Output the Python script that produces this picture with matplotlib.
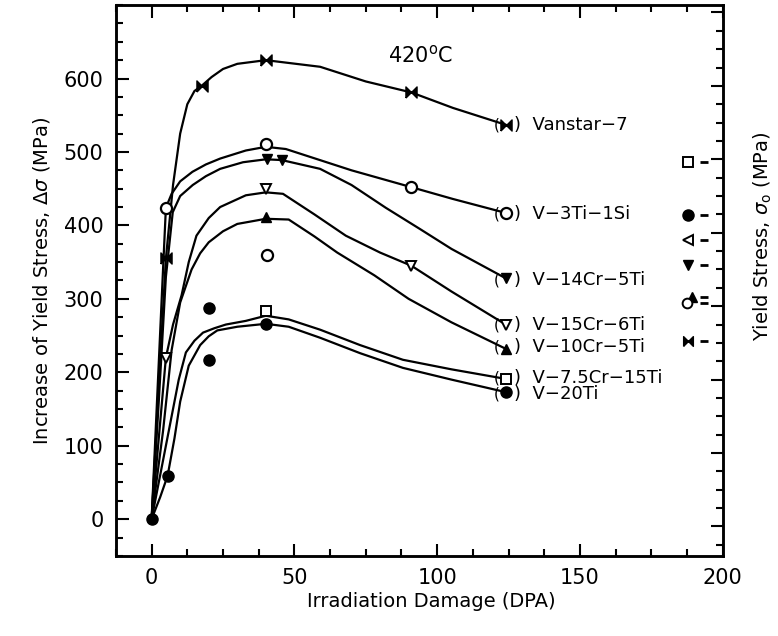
import matplotlib
matplotlib.use("Agg")
import matplotlib.pyplot as plt
from matplotlib.ticker import MultipleLocator, FixedLocator, NullFormatter

# measured points (DPA, MPa) per alloy
van_x = [5, 17.5, 40, 91, 124]
van_y = [355, 590, 625, 581, 537]
ti3_x = [5, 40, 91, 124]
ti3_y = [424, 511, 452, 417]
ti3_extra_x = [40.5]
ti3_extra_y = [360]
cr14_x = [40.5, 45.5, 124]
cr14_y = [491, 489, 328]
cr15_x = [5, 40, 91, 124]
cr15_y = [220, 449, 345, 265]
cr10_x = [40, 124]
cr10_y = [411, 232]
cr75_x = [40, 124]
cr75_y = [283, 191]
ti20_x = [0, 5.6, 20, 20, 40, 124]
ti20_y = [0, 59, 287, 217, 266, 173]

# hand drawn trend curves
van_cx = [0, 2.5, 5, 7.5, 10, 12.5, 15, 17.5, 21, 25, 30, 40, 59, 75, 91, 105.5, 124]
van_cy = [0, 180, 355, 455, 525, 565, 583, 590, 602, 613, 620, 625, 616, 596, 581, 560, 537]
ti3_cx = [0, 2, 4, 5, 7, 10, 14.3, 19, 24, 33, 40, 47, 70, 91, 105.5, 124]
ti3_cy = [0, 170, 340, 424, 443, 460, 473, 483, 491, 502, 507, 504, 475, 452, 436, 417]
cr14_cx = [0, 2.5, 5, 7.4, 10, 14.4, 19, 24, 32, 40, 45.5, 59, 70, 82, 94, 105, 124]
cr14_cy = [0, 160, 330, 418, 440, 455, 467, 477, 486, 490, 489, 477, 455, 424, 395, 368, 328]
cr15_cx = [0, 2.5, 5, 7.5, 10.5, 13, 15.7, 20, 24, 33, 40, 46, 57, 68, 80, 91, 105, 124]
cr15_cy = [0, 110, 220, 265, 305, 350, 386, 410, 425, 441, 445, 443, 415, 386, 363, 345, 310, 265]
cr10_cx = [0, 4, 7, 10, 14, 17, 20, 25, 30, 40, 48, 57, 65, 78, 90, 105, 124]
cr10_cy = [0, 120, 230, 295, 340, 362, 377, 392, 402, 409, 408, 385, 363, 332, 300, 268, 232]
cr75_cx = [0, 2, 4.5, 7, 9.5, 12, 15, 18, 22, 26, 33, 40, 48, 59, 73, 88, 105, 124]
cr75_cy = [0, 40, 90, 140, 190, 227, 243, 254, 260, 265, 270, 277, 272, 258, 237, 217, 204, 191]
ti20_cx = [0, 3, 5.6, 8, 10, 13, 17, 20, 23, 30, 40, 48, 59, 73, 88, 105, 124]
ti20_cy = [0, 30, 59, 110, 160, 209, 237, 249, 257, 262, 266, 262, 247, 226, 206, 190, 173]

alloys = ["Vanstar\u22127", "V\u22123Ti\u22121Si", "V\u221214Cr\u22125Ti", "V\u221215Cr\u22126Ti",
          "V\u221210Cr\u22125Ti", "V\u22127.5Cr\u221215Ti", "V\u221220Ti"]
label_y = [537, 415, 325, 265, 235, 192, 170]

# unirradiated yield stress markers on the right
ref_y = [486, 414, 380, 346, 302, 295, 243]

bowtie = [(-1, -1), (-1, 1), (1, -1), (1, 1), (-1, -1)]

fig = plt.figure(figsize=(7.78, 6.36), dpi=100)
ax = fig.add_axes([0.149, 0.126, 0.78, 0.866])

lw = 1.6
for cx, cy in [(van_cx, van_cy), (ti3_cx, ti3_cy), (cr14_cx, cr14_cy), (cr15_cx, cr15_cy),
               (cr10_cx, cr10_cy), (cr75_cx, cr75_cy), (ti20_cx, ti20_cy)]:
    ax.plot(cx, cy, color="black", lw=lw, zorder=2)

ms = 8
ax.plot(van_x, van_y, ls="none", marker=bowtie, ms=8, color="black", zorder=3)
ax.plot(ti3_x + ti3_extra_x, ti3_y + ti3_extra_y, ls="none", marker="o", ms=ms, mfc="white",
        mec="black", mew=1.6, zorder=3)
ax.plot(cr14_x, cr14_y, ls="none", marker="v", ms=7, color="black", zorder=3)
ax.plot(cr15_x, cr15_y, ls="none", marker="v", ms=7, mfc="white", mec="black", mew=1.4, zorder=3)
ax.plot(cr10_x, cr10_y, ls="none", marker="^", ms=7, color="black", zorder=3)
ax.plot(cr75_x, cr75_y, ls="none", marker="s", ms=6.5, mfc="white", mec="black", mew=1.4, zorder=3)
ax.plot(ti20_x, ti20_y, ls="none", marker="o", ms=ms, color="black", zorder=3)

# labels at curve ends
for name, y in zip(alloys, label_y):
    ax.text(120.8, y, "(", fontsize=11, ha="center", va="center")
    ax.text(126.8, y, ")  " + name, fontsize=13, ha="left", va="center")

# reference markers beside right axis
rx = 188
ax.plot([rx], [ref_y[0]], ls="none", marker="s", ms=7, mfc="white", mec="black", mew=1.4)
ax.plot([rx], [ref_y[1]], ls="none", marker="o", ms=8, color="black")
ax.plot([rx], [ref_y[2]], ls="none", marker="<", ms=7, mfc="white", mec="black", mew=1.4)
ax.plot([rx], [ref_y[3]], ls="none", marker="v", ms=7, color="black")
ax.plot([rx + 1.2], [ref_y[4]], ls="none", marker="^", ms=7, color="black")
ax.plot([rx - 0.5], [ref_y[5]], ls="none", marker="o", ms=7, mfc="white", mec="black", mew=1.4)
ax.plot([rx], [ref_y[6]], ls="none", marker=bowtie, ms=7, color="black")
ax.plot([193.5] * len(ref_y), ref_y, ls="none", marker="_", ms=6, mew=2, color="black")

ax.text(94, 632, r"420$^{\mathrm{o}}$C", fontsize=15, ha="center", va="center")

ax.set_xlim(-12.5, 200)
ax.set_ylim(-50, 700)
ax.xaxis.set_major_locator(FixedLocator([0, 50, 100, 150, 200]))
ax.xaxis.set_minor_locator(MultipleLocator(12.5))
ax.yaxis.set_major_locator(FixedLocator([0, 100, 200, 300, 400, 500, 600]))
ax.yaxis.set_minor_locator(MultipleLocator(25))
ax.tick_params(which="both", direction="in", top=True, right=False, width=1.5, labelsize=15)
ax.tick_params(which="major", length=9, pad=9)
ax.tick_params(which="minor", length=5)
for s in ax.spines.values():
    s.set_linewidth(1.8)

ax.set_xlabel("Irradiation Damage (DPA)", fontsize=14, labelpad=2)
ax.xaxis.set_label_coords(0.52, -0.065)
ax.set_ylabel(r"Increase of Yield Stress, $\Delta\sigma$ (MPa)", fontsize=14, labelpad=8)

ax2 = ax.twinx()
ax2.set_ylim(-40, 710)
ax2.yaxis.set_major_locator(MultipleLocator(100))
ax2.yaxis.set_minor_locator(MultipleLocator(25))
ax2.yaxis.set_major_formatter(NullFormatter())
ax2.tick_params(which="both", direction="in", width=1.5)
ax2.tick_params(which="major", length=9)
ax2.tick_params(which="minor", length=5)
for s in ax2.spines.values():
    s.set_linewidth(1.8)

ax.text(1.066, 0.58, r"Yield Stress, $\sigma_{\mathrm{o}}$ (MPa)", transform=ax.transAxes,
        rotation=90, fontsize=14, ha="center", va="center")

fig.savefig("out.png", dpi=100)
